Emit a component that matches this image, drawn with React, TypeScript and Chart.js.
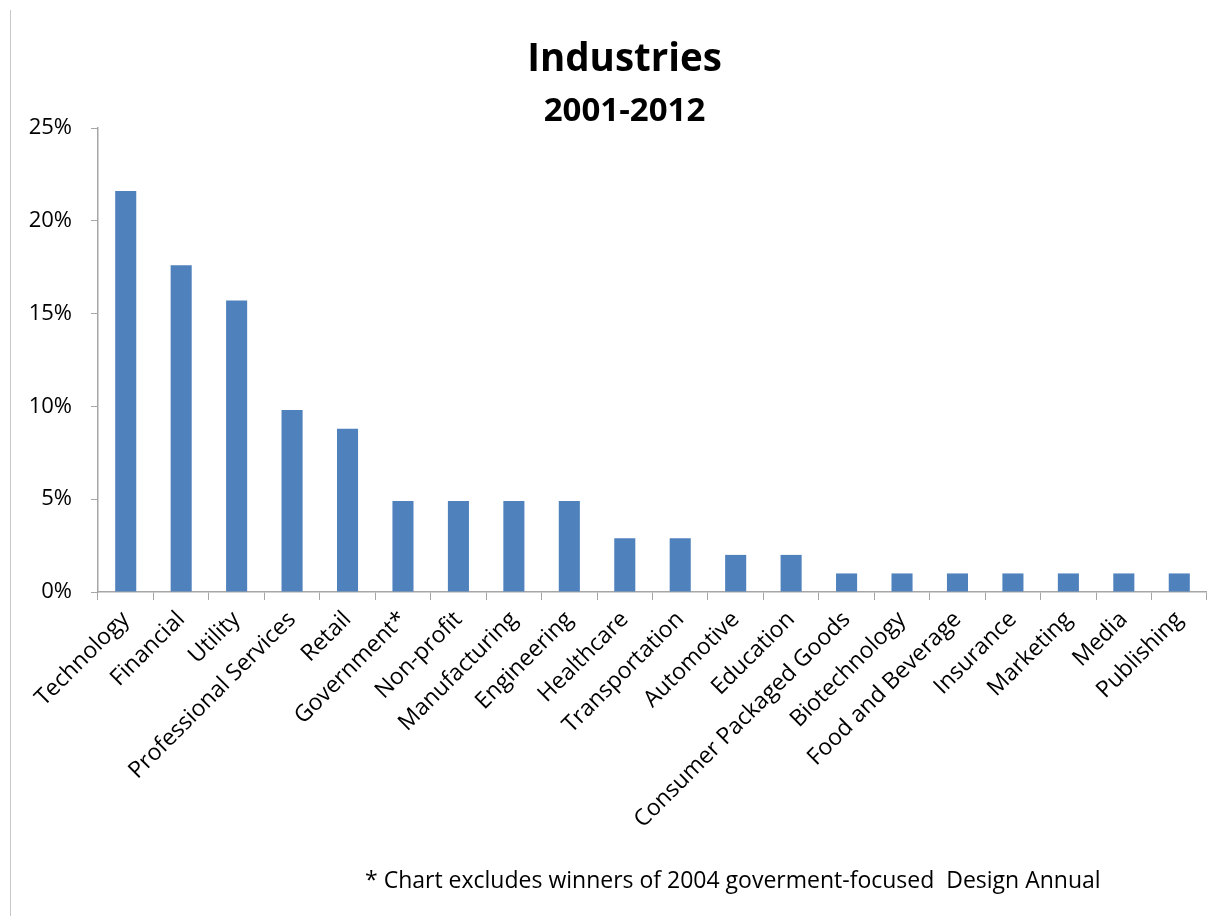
import React, { useEffect, useRef } from "react";
import { Chart, registerables } from "chart.js";

Chart.register(...registerables);

const categories = [
  "Technology",
  "Financial",
  "Utility",
  "Professional Services",
  "Retail",
  "Government*",
  "Non-profit",
  "Manufacturing",
  "Engineering",
  "Healthcare",
  "Transportation",
  "Automotive",
  "Education",
  "Consumer Packaged Goods",
  "Biotechnology",
  "Food and Beverage",
  "Insurance",
  "Marketing",
  "Media",
  "Publishing",
];

const shares = [21.6, 17.6, 15.7, 9.8, 8.8, 4.9, 4.9, 4.9, 4.9, 2.9, 2.9, 2.0, 2.0, 1.0, 1.0, 1.0, 1.0, 1.0, 1.0, 1.0];

const yMin = 0;
const yMax = 25;
const yStep = 5;

const titleText = "Industries";
const subtitleText = "2001-2012";
const footnoteText = "* Chart excludes winners of 2004 goverment-focused  Design Annual";

const FONT = "'Open Sans', 'Noto Sans', sans-serif";
const AXIS = "#a6a6a6";

const widenYAxis = {
  id: "widenYAxis",
  afterLayout(chart: any) {
    const y = chart.scales.y;
    if (y) y.left = 0;
  },
};

export default function App() {
  const ref = useRef<HTMLCanvasElement | null>(null);

  useEffect(() => {
    if (!ref.current) return;
    const chart = new Chart(ref.current, {
      type: "bar",
      data: {
        labels: categories,
        datasets: [
          {
            data: shares,
            backgroundColor: "#4F81BD",
            barPercentage: 0.38,
            categoryPercentage: 1,
          },
        ],
      },
      plugins: [widenYAxis],
      options: {
        animation: false,
        responsive: false,
        layout: { padding: { left: 42, right: 0, top: 0, bottom: 0 } },
        plugins: {
          legend: { display: false },
          tooltip: { enabled: false },
          title: {
            display: true,
            text: titleText,
            color: "#000",
            font: { family: FONT, size: 38.5, weight: "bold", lineHeight: 1 },
            padding: { top: 41, bottom: 0 },
          },
          subtitle: {
            display: true,
            text: subtitleText,
            color: "#000",
            font: { family: FONT, size: 33, weight: "bold", lineHeight: 1 },
            padding: { top: 15.5, bottom: 0 },
          },
        },
        scales: {
          x: {
            grid: {
              display: true,
              drawOnChartArea: false,
              tickLength: 8,
              color: AXIS,
              offset: true,
            },
            border: { color: AXIS, width: 1.5 },
            ticks: {
              autoSkip: false,
              minRotation: 45,
              maxRotation: 45,
              color: "#000",
              font: { family: FONT, size: 23 },
              padding: 6,
            },
            afterFit: (s: any) => {
              s.height = 324;
            },
          },
          y: {
            min: yMin,
            max: yMax,
            ticks: {
              stepSize: yStep,
              color: "#000",
              font: { family: FONT, size: 22 },
              padding: 19,
              callback: (v: any) => `${v}%`,
            },
            grid: {
              display: true,
              drawOnChartArea: false,
              tickLength: 7,
              color: AXIS,
            },
            border: { color: AXIS, width: 1.5 },
            afterFit: (s: any) => {
              s.width = 56;
            },
          },
        },
      },
    });
    return () => chart.destroy();
  }, []);

  return (
    <div
      style={{
        position: "absolute",
        left: 0,
        top: 0,
        width: 1207,
        height: 916,
        background: "#fff",
        overflow: "hidden",
      }}
    >
      <canvas ref={ref} width={1207} height={916} style={{ display: "block" }} />
      <div
        style={{
          position: "absolute",
          left: 10,
          top: 10,
          width: 1,
          height: 906,
          background: "#c8c8c8",
        }}
      />
      <div
        style={{
          position: "absolute",
          left: 365,
          top: 864,
          fontFamily: FONT,
          fontSize: 23,
          lineHeight: "30px",
          color: "#000",
          whiteSpace: "pre",
        }}
      >
        {footnoteText}
      </div>
    </div>
  );
}
